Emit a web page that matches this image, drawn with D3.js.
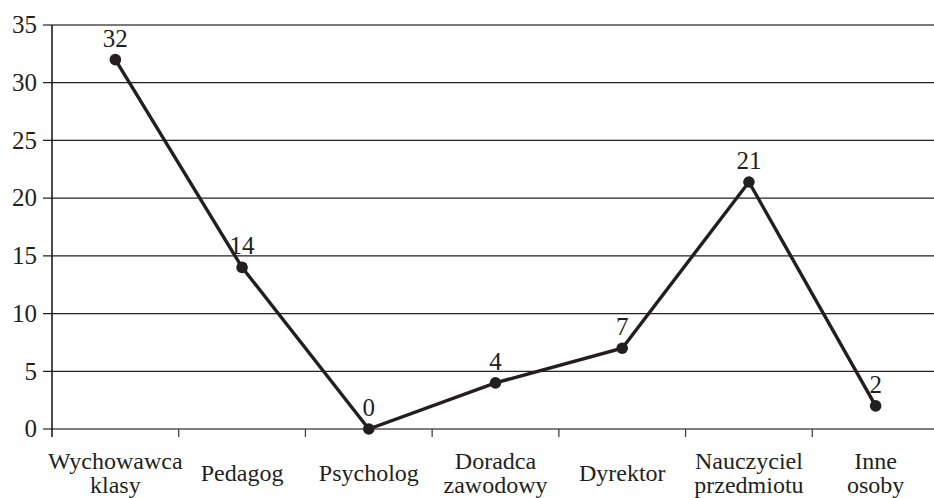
<!DOCTYPE html>
<html lang="pl">
<head>
<meta charset="utf-8"/>
<script src="https://d3js.org/d3.v7.min.js"></script>
<style>
  body { margin: 0; background: #fff; }
  svg text { font-family: "Liberation Serif", "Times New Roman", serif; fill: #231f20; }
</style>
</head>
<body>
<script>
// chart data
var categories = ["Wychowawca klasy", "Pedagog", "Psycholog", "Doradca zawodowy", "Dyrektor", "Nauczyciel przedmiotu", "Inne osoby"];
var values = [32, 14, 0, 4, 7, 21.4, 2];
var valueLabels = ["32", "14", "0", "4", "7", "21", "2"];
var yTicks = [0, 5, 10, 15, 20, 25, 30, 35];

var W = 934, H = 498;
var plotLeft = 52, plotRight = 939, plotTop = 25, plotBottom = 429;
var ink = "#231f20";

var svg = d3.select("body").append("svg")
    .attr("width", W)
    .attr("height", H);

var x = d3.scaleBand()
    .domain(categories)
    .range([plotLeft, plotRight])
    .padding(0);

var y = d3.scaleLinear()
    .domain([0, 35])
    .range([plotBottom, plotTop]);

// gridlines + y ticks
svg.selectAll(".grid")
    .data(yTicks).enter()
    .append("line")
    .attr("x1", plotLeft - 9)
    .attr("x2", W)
    .attr("y1", function(d) { return y(d); })
    .attr("y2", function(d) { return y(d); })
    .attr("stroke", function(d) { return d == 35 ? "#7a7a7a" : (d == 0 ? "#555" : "#222"); })
    .attr("stroke-width", function(d) { return d == 35 ? 2 : 1.3; });

svg.selectAll(".ylab")
    .data(yTicks).enter()
    .append("text")
    .attr("x", 37)
    .attr("y", function(d) { return y(d); })
    .attr("dy", "0.33em")
    .attr("text-anchor", "end")
    .style("font-size", "25px")
    .text(function(d) { return d; });

// y axis line
svg.append("line")
    .attr("x1", plotLeft).attr("x2", plotLeft)
    .attr("y1", plotTop).attr("y2", plotBottom + 8)
    .attr("stroke", "#111")
    .attr("stroke-width", 1.5);

// x ticks at band edges
svg.selectAll(".xtick")
    .data(categories.slice(1)).enter()
    .append("line")
    .attr("x1", function(d) { return x(d); })
    .attr("x2", function(d) { return x(d); })
    .attr("y1", plotBottom)
    .attr("y2", plotBottom + 8)
    .attr("stroke", "#444")
    .attr("stroke-width", 1.3);

// category labels
var cat = svg.selectAll(".xlab")
    .data(categories).enter()
    .append("text")
    .attr("text-anchor", "middle")
    .style("font-size", "24px")
    .attr("transform", function(d) {
      var n = d.split(" ").length;
      return "translate(" + (x(d) + x.bandwidth() / 2) + "," + (n > 1 ? 469 : 481) + ")";
    });

cat.selectAll("tspan")
    .data(function(d) { return d.split(" "); }).enter()
    .append("tspan")
    .attr("x", 0)
    .attr("dy", function(d, i) { return i == 0 ? 0 : 23.5; })
    .text(function(d) { return d; });

// line
var cx = function(d, i) { return x(categories[i]) + x.bandwidth() / 2; };

var line = d3.line()
    .x(function(d, i) { return cx(d, i); })
    .y(function(d) { return y(d); });

svg.append("path")
    .datum(values)
    .attr("d", line)
    .attr("fill", "none")
    .attr("stroke", ink)
    .attr("stroke-width", 3.4);

svg.selectAll(".dot")
    .data(values).enter()
    .append("circle")
    .attr("cx", cx)
    .attr("cy", function(d) { return y(d); })
    .attr("r", 5.8)
    .attr("fill", ink);

svg.selectAll(".vlab")
    .data(values).enter()
    .append("text")
    .attr("x", cx)
    .attr("y", function(d) { return y(d) - 13; })
    .attr("text-anchor", "middle")
    .style("font-size", "25px")
    .text(function(d, i) { return valueLabels[i]; });
</script>
</body>
</html>
